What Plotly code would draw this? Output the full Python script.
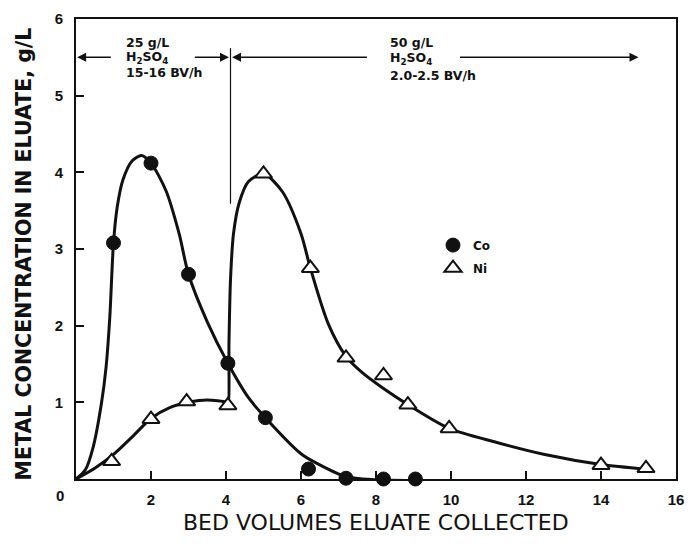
import plotly.graph_objects as go

# Measured eluate concentrations (g/L) vs bed volumes collected
co_bv = [1.0, 2.0, 3.0, 4.05, 5.05, 6.2, 7.2, 8.2, 9.05]
co_conc = [3.08, 4.12, 2.67, 1.51, 0.80, 0.13, 0.01, 0.0, 0.0]

ni_bv = [0.95, 2.0, 2.95, 4.05, 5.0, 6.25, 7.2, 8.2, 8.85, 9.95, 14.0, 15.2]
ni_conc = [0.23, 0.78, 1.01, 0.96, 3.98, 2.75, 1.58, 1.35, 0.97, 0.66, 0.18, 0.14]

# Hand-fitted elution curves (knots of the smooth lines)
co_fit_bv = [0.0, 0.25, 0.46, 0.68, 0.8, 0.9, 1.0, 1.1, 1.25, 1.5, 1.75, 2.0, 2.4,
             2.75, 3.0, 3.5, 4.05, 4.6, 5.05, 6.0, 6.4, 7.2, 8.0, 9.1]
co_fit_conc = [0.0, 0.12, 0.42, 0.99, 1.45, 2.1, 3.08, 3.55, 3.9, 4.15, 4.22, 4.12, 3.76,
               3.2, 2.67, 2.05, 1.51, 1.06, 0.80, 0.33, 0.21, 0.03, -0.01, -0.02]

ni_fit_bv = [0.0, 0.5, 1.0, 1.5, 2.0, 2.5, 3.0, 3.5, 4.0, 4.05, 4.08, 4.12, 4.2, 4.35,
             4.6, 5.0, 5.5, 6.0, 6.25, 6.73, 7.2, 7.65, 8.2, 8.85, 9.95, 11.2, 12.5,
             14.0, 15.2]
ni_fit_conc = [0.0, 0.14, 0.32, 0.55, 0.79, 0.93, 1.0, 1.03, 1.0, 0.97, 1.8, 2.6, 3.2, 3.6,
               3.88, 3.98, 3.75, 3.2, 2.75, 2.02, 1.6, 1.38, 1.18, 0.97, 0.66, 0.48, 0.32,
               0.19, 0.13]

x_ticks = [2, 4, 6, 8, 10, 12, 14, 16]
y_ticks = [1, 2, 3, 4, 5, 6]

FONT = "Liberation Sans"
WIDE = "DejaVu Sans"
INK = "#111111"

fig = go.Figure()

fig.add_trace(go.Scatter(x=co_fit_bv, y=co_fit_conc, mode="lines",
                         line=dict(color=INK, width=3, shape="spline", smoothing=0.8),
                         showlegend=False, hoverinfo="skip"))
fig.add_trace(go.Scatter(x=ni_fit_bv, y=ni_fit_conc, mode="lines",
                         line=dict(color=INK, width=3, shape="spline", smoothing=0.8),
                         showlegend=False, hoverinfo="skip"))

fig.add_trace(go.Scatter(x=co_bv, y=co_conc, mode="markers", name="<b>Co</b>",
                         legendgroup="co",
                         marker=dict(symbol="circle", size=14, color=INK,
                                     line=dict(color=INK, width=1)),
                         cliponaxis=False))
fig.add_trace(go.Scatter(x=ni_bv, y=ni_conc, mode="markers", name="<b>Ni</b>",
                         legendgroup="ni",
                         marker=dict(symbol="triangle-up", size=15, color="white",
                                     line=dict(color=INK, width=2)),
                         cliponaxis=False))

# Acid-strength regions: divider line and arrows
fig.add_shape(type="line", x0=4.12, x1=4.12, y0=3.59, y1=5.62,
              line=dict(color=INK, width=1.2))

arrow_style = dict(showarrow=True, arrowhead=2, arrowsize=1.2, arrowwidth=1.5,
                   arrowcolor=INK, text="", xref="x", yref="y", axref="x", ayref="y")
for head, tail in [(0.03, 0.97), (4.08, 3.13), (4.16, 7.8), (15.0, 10.2)]:
    fig.add_annotation(x=head, y=5.5, ax=tail, ay=5.5, **arrow_style)

txt_font = dict(family=WIDE, size=12.5, color=INK)
for label, yv in [("<b>25 g/L</b>", 5.70), ("<b>H<sub>2</sub>SO<sub>4</sub></b>", 5.50),
                  ("<b>15-16 BV/h</b>", 5.30)]:
    fig.add_annotation(x=1.27, y=yv, text=label, showarrow=False, xanchor="left",
                       yanchor="middle", font=txt_font)
for label, yv in [("<b>50 g/L</b>", 5.70), ("<b>H<sub>2</sub>SO<sub>4</sub></b>", 5.48),
                  ("<b>2.0-2.5 BV/h</b>", 5.26)]:
    fig.add_annotation(x=8.32, y=yv, text=label, showarrow=False, xanchor="left",
                       yanchor="middle", font=txt_font)

# Axis titles and shared origin label
fig.add_annotation(xref="paper", yref="paper", x=-0.087, y=0.49, textangle=-90,
                   xanchor="center", yanchor="middle",
                   text="<b>METAL CONCENTRATION IN ELUATE, g/L</b>", showarrow=False,
                   font=dict(family=WIDE, size=20.5, color=INK))
fig.add_annotation(xref="paper", yref="paper", x=0.5, y=-0.094,
                   xanchor="center", yanchor="middle",
                   text="BED VOLUMES ELUATE COLLECTED", showarrow=False,
                   font=dict(family=WIDE, size=22, color=INK))
fig.add_annotation(xref="paper", yref="paper", x=-0.026, y=-0.035, text="<b>0</b>",
                   xanchor="center", yanchor="middle",
                   showarrow=False, font=dict(family=FONT, size=15, color=INK))

axis_common = dict(showline=True, linecolor=INK, linewidth=2, mirror=True,
                   ticks="inside", ticklen=8, tickwidth=1.5, tickcolor=INK,
                   showgrid=False, zeroline=False,
                   tickfont=dict(family=FONT, size=15, color=INK))

fig.update_xaxes(range=[0, 16], tickvals=x_ticks,
                 ticktext=[f"<b>{v}</b>" for v in x_ticks], ticklabelstandoff=6,
                 **axis_common)
fig.update_yaxes(range=[0, 6], tickvals=y_ticks,
                 ticktext=[f"<b>{v}</b>" for v in y_ticks], ticklabelstandoff=8,
                 **axis_common)

fig.update_layout(
    width=693, height=549,
    margin=dict(l=76, r=9, t=19, b=70),
    plot_bgcolor="white", paper_bgcolor="white",
    legend=dict(x=0.595, y=0.54, xanchor="left", yanchor="top",
                bgcolor="rgba(0,0,0,0)", font=dict(family=WIDE, size=12, color=INK),
                itemsizing="trace", tracegroupgap=4),
)

fig.write_html("out.html")
